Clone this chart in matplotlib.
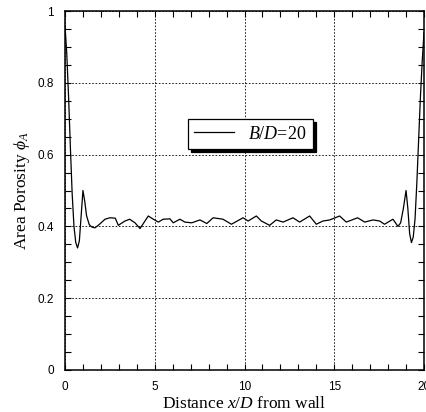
import matplotlib
matplotlib.use("Agg")
import matplotlib.pyplot as plt
from matplotlib.ticker import MultipleLocator

plt.rcParams["mathtext.fontset"] = "custom"
plt.rcParams["mathtext.rm"] = "Liberation Serif"
plt.rcParams["mathtext.it"] = "Liberation Serif:italic"

# Data (x/D, area porosity)
x_vals = [0.0, 0.1, 0.2, 0.3, 0.4, 0.5, 0.6, 0.7, 0.8, 0.9, 1.0, 1.1, 1.2, 1.35, 1.5, 1.67,
          1.9, 2.23, 2.5, 2.8, 2.97, 3.34, 3.6, 3.9, 4.18, 4.64, 4.92, 5.2, 5.47, 5.85,
          6.03, 6.4, 6.68, 7.06, 7.52, 7.9, 8.25, 8.8, 9.27, 9.92, 10.2, 10.66, 10.94,
          11.4, 11.77, 12.15, 12.7, 13.07, 13.63, 14.0, 14.37, 14.75, 15.3, 15.67, 16.3,
          16.7, 17.16, 17.53, 17.8, 18.27, 18.55, 18.7, 18.85, 19.0, 19.1, 19.2, 19.3,
          19.4, 19.5, 19.6, 19.7, 19.8, 19.9, 20.0]
phi_vals = [0.96, 0.88, 0.76, 0.62, 0.49, 0.40, 0.355, 0.34, 0.36, 0.43, 0.50, 0.47, 0.43,
            0.405, 0.398, 0.396, 0.405, 0.42, 0.424, 0.423, 0.403, 0.415, 0.42, 0.41, 0.394,
            0.429, 0.42, 0.412, 0.42, 0.421, 0.41, 0.42, 0.412, 0.41, 0.418, 0.408, 0.424,
            0.42, 0.406, 0.424, 0.415, 0.429, 0.415, 0.403, 0.418, 0.412, 0.424, 0.412,
            0.429, 0.406, 0.415, 0.418, 0.429, 0.412, 0.424, 0.412, 0.418, 0.415, 0.406,
            0.42, 0.40, 0.41, 0.45, 0.50, 0.45, 0.38, 0.355, 0.37, 0.42, 0.52, 0.64, 0.76,
            0.86, 0.94]
x_ticks = [0, 5, 10, 15, 20]
y_ticks = [0, 0.2, 0.4, 0.6, 0.8, 1]
y_ticklabels = ["0", "0.2", "0.4", "0.6", "0.8", "1"]
legend_label = r"$\mathit{B}/\mathit{D}$=20"

fig = plt.figure(figsize=(4.26, 4.12), dpi=100)
ax = fig.add_axes([65/426, 42/412, 359/426, 359/412])

ax.plot(x_vals, phi_vals, color="black", lw=0.9)

ax.set_xlim(0, 20)
ax.set_ylim(0, 1)
ax.set_xticks(x_ticks)
ax.set_yticks(y_ticks)
ax.set_yticklabels(y_ticklabels)
ax.xaxis.set_minor_locator(MultipleLocator(1))
ax.yaxis.set_minor_locator(MultipleLocator(0.05))
ax.tick_params(which="both", direction="in", top=True, right=True, width=0.8)
ax.tick_params(which="major", length=4, labelsize=8.5, pad=8)
ax.tick_params(which="minor", length=4)
for lab in ax.get_xticklabels() + ax.get_yticklabels():
    lab.set_fontfamily("Liberation Sans")
ax.grid(True, which="major", color="black", ls=(0, (2, 2)), lw=0.6)
for s in ax.spines.values():
    s.set_linewidth(1.1)

ax.set_xlabel(r"Distance $\mathit{x}/\mathit{D}$ from wall", family="Liberation Serif",
              fontsize=12.5, labelpad=2)
ax.set_ylabel(r"Area Porosity $\phi_A$", family="Liberation Serif", fontsize=12.5, labelpad=4)

leg = ax.legend([ax.lines[0]], [legend_label], loc="center", bbox_to_anchor=(0.517, 0.657),
                prop={"family": "Liberation Serif", "size": 13}, frameon=True, fancybox=False,
                shadow={"color": "black", "alpha": 1.0}, framealpha=1, edgecolor="black",
                handlelength=2.2, borderpad=0.35)
leg.get_frame().set_linewidth(0.9)

fig.savefig("out.png", dpi=100)
